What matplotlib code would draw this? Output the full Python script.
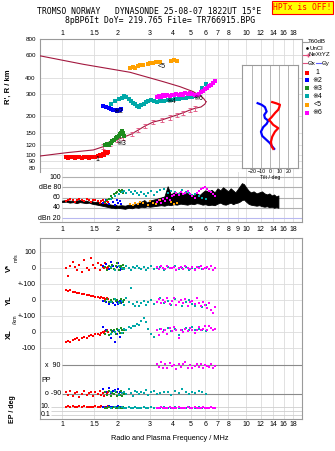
import numpy as np
import matplotlib.pyplot as plt
from matplotlib.lines import Line2D
from matplotlib.ticker import NullLocator

plt.rcParams['font.family'] = ['Liberation Sans', 'DejaVu Sans']

W, H = 335, 451

# ---- echo traces (frequency MHz, virtual height km, amplitude dB, V*, YL, XL, PP, EP)
red_f = [1.05, 1.08, 1.11, 1.14, 1.17, 1.20, 1.24, 1.28, 1.32, 1.36, 1.40, 1.44, 1.48, 1.52,
         1.56, 1.60, 1.63, 1.66, 1.69, 1.72, 1.75, 1.78]
red_h = [96, 95, 96, 97, 95, 96, 96, 95, 97, 96, 95, 96, 97, 96, 99, 101, 98, 103, 101, 105, 104, 106]
red_db = [54, 56, 57, 55, 52, 56, 58, 56, 54, 57, 55, 52, 55, 56, 53, 50, 54, 55, 52, 50, 53, 51]
red_v = [-2, -52, 10, 40, 8, -12, 19, -23, 50, -2, -12, 60, 19, -2, 29, -12, 19, 8, -2, 29, 0, 8]
red_yl = [60, 55, 62, 50, 52, 45, 42, 40, 35, 30, 31, 25, 28, 20, 21, 15, 18, 12, 10, 8, 10, 5]
red_xl = [-60, -55, -65, -50, -45, -40, -48, -35, -30, -38, -25, -20, -28, -15, -10, -18, -5, 0, -8, 5, 10, 2]
red_pp = [-75, -95, -70, -100, -85, -80, -110, -90, -70, -95, -85, -75, -100, -80, -90, -70, -95,
          -85, -105, -80, -90, -75]
red_ep = [10, 12, 8, 15, 10, 9, 12, 10, 14, 8, 10, 11, 9, 12, 10, 8, 13, 10, 9, 11, 10, 12]

blue_f = [1.68, 1.74, 1.80, 1.85, 1.90, 1.94, 1.98, 2.02, 2.06, 2.10]
blue_h = [242, 238, 233, 229, 226, 224, 222, 223, 225, 227]
blue_db = [50, 55, 48, 58, 52, 46, 56, 50, 54, 48]
blue_v = [10, 25, -5, 40, 15, -10, 5, 30, -15, 0]
blue_yl = [-5, -15, -25, -10, -20, -30, -15, -22, -8, -18]
blue_xl = [30, 10, -20, -40, 5, -60, -10, 15, -30, -5]
blue_pp = [-60, -75, -55, -85, -70, -65, -80, -60, -75, -70]
blue_ep = [10, 8, 12, 10, 9, 11, 10, 13, 9, 10]

green_f = [1.72, 1.76, 1.80, 1.84, 1.88, 1.92, 1.96, 2.00, 2.03, 2.06, 2.09, 2.12, 2.15, 2.18]
green_h = [121, 123, 120, 125, 128, 131, 135, 138, 142, 146, 150, 153, 148, 140]
green_db = [52, 55, 58, 62, 60, 66, 68, 70, 74, 72, 70, 75, 68, 72]
green_v = [5, -10, 15, 0, 20, -5, 10, 30, -15, 5, 12, -8, 18, 2]
green_yl = [-5, 5, -10, 0, -15, 8, -8, 2, -12, -20, 5, -5, -10, 0]
green_xl = [-15, 5, -20, 10, 0, 15, -10, 20, 5, -5, 25, 10, -8, 15]
green_pp = [-80, -95, -70, -100, -85, -90, -75, -105, -88, -95, -70, -100, -85, -92]
green_ep = [6, 5, 8, 4, 6, 7, 5, 6, 8, 5, 6, 4, 7, 6]

cyan_f = [1.85, 1.95, 2.05, 2.12, 2.18, 2.24, 2.30, 2.36, 2.42, 2.48,
          2.55, 2.62, 2.70, 2.78, 2.86, 2.95, 3.05, 3.15, 3.28, 3.42,
          3.58, 3.75, 3.92, 4.10, 4.30, 4.50, 4.70, 4.90, 5.10, 5.30,
          5.55, 5.80, 6.05]
cyan_h = [250, 262, 272, 280, 290, 285, 275, 262, 255, 248,
          242, 238, 244, 250, 258, 265, 268, 262, 258, 262,
          265, 268, 270, 272, 274, 276, 278, 282, 285, 290,
          300, 330, 360]
cyan_db = [58, 62, 66, 70, 72, 68, 74, 70, 66, 72,
           68, 64, 70, 66, 62, 68, 72, 65, 70, 74,
           76, 68, 72, 70, 66, 74, 70, 68, 64, 66,
           62, 60, 58]
cyan_v = [5, -10, 15, 0, -5, 10, 2, -15, 8, -3,
          12, 0, -8, 5, -12, 3, 10, -5, 0, 8,
          -10, 4, -2, 12, -6, 0, 6, -10, 3, -4,
          8, -8, 0]
cyan_yl = [-10, 5, -20, -5, -30, 10, -15, 77, -25, -35,
           -10, -40, -20, -5, -30, -15, 0, -25, -10, 15,
           -20, -5, -30, 5, -15, -35, -10, 0, -25, -40,
           -20, -45, -30]
cyan_xl = [-10, 0, 10, -5, 20, 15, 30, 25, 40, 35,
           50, 45, 70, 90, 60, 20, -10, -30, 10, 20,
           15, 25, 5, 20, -20, 15, 25, 10, 30, 15,
           20, 10, 5]
cyan_pp = [-80, -70, -95, -85, -75, -90, -60, -85, -100, -70,
           -80, -90, -75, -85, -65, -95, -80, -70, -90, -85,
           -75, -80, -95, -70, -85, -60, -80, -90, -75, -85,
           -70, -80, -90]
cyan_ep = [6, 8, 5, 7, 4, 6, 8, 5, 6, 7,
           4, 6, 5, 8, 6, 5, 7, 6, 4, 6,
           8, 5, 6, 7, 5, 6, 4, 7, 6, 5,
           8, 6, 5]

orange_f = [2.35, 2.42, 2.50, 2.58, 2.66, 2.74, 2.92, 3.02, 3.12, 3.25, 3.40, 3.90, 4.05, 4.20]
orange_h = [478, 485, 480, 492, 498, 502, 515, 520, 525, 528, 532, 540, 550, 535]
orange_db = [48, 45, 50, 47, 52, 49, 46, 53, 50, 48, 55, 52, 47, 50]

magenta_f = [3.30, 3.38, 3.46, 3.55, 3.64, 3.74, 3.84, 3.95, 4.06, 4.18,
             4.30, 4.42, 4.55, 4.68, 4.82, 4.96, 5.10, 5.25, 5.40, 5.55,
             5.70, 5.85, 6.00, 6.15, 6.30, 6.45, 6.60, 6.75]
magenta_h = [285, 290, 282, 292, 288, 294, 290, 296, 292, 298,
             294, 300, 296, 302, 298, 304, 300, 296, 292, 300,
             310, 318, 326, 334, 342, 352, 364, 380]
magenta_db = [52, 55, 50, 58, 54, 60, 56, 62, 65, 68,
              64, 70, 66, 68, 72, 66, 62, 60, 68, 72,
              76, 78, 80, 76, 72, 70, 66, 62]
magenta_v = [5, -5, 10, 0, -8, 12, 3, -3, 8, -10,
             0, 6, -6, 15, 2, -4, 9, -12, 4, -2,
             10, -8, 0, 6, -5, 12, -10, 3]
magenta_yl = [-10, 5, -20, 0, -15, 10, -25, -5, 15, -30,
              -10, 0, -20, 5, -35, -15, -5, -25, 10, -20,
              -40, -10, -30, -50, -20, -60, -80, -45]
magenta_xl = [10, -20, 20, 0, 15, -10, 25, 5, 30, 10,
              -35, 15, 0, 20, 5, 25, 10, -5, 15, 30,
              10, 20, 35, 15, 40, 25, 10, 20]
magenta_pp = [100, 80, 110, 75, 95, 70, 105, 85, 90, 65,
              100, 80, 95, 110, 75, 90, 70, 85, 100, 80,
              95, 75, 90, 85, 80, 95, 75, 85]
magenta_ep = [6, 5, 7, 4, 6, 5, 8, 4, 6, 5,
              7, 5, 6, 4, 8, 5, 6, 7, 4, 6,
              5, 7, 6, 4, 5, 7, 6, 5]

# ---- model curves (NeXtYZ real height profile and its return branch)
lower_f = [0.75, 1.061, 1.48, 1.677, 1.824, 1.983, 2.154, 2.392, 2.598, 2.826, 3.135, 3.482,
           3.864, 4.201, 4.563, 4.962, 5.283, 5.697, 5.986, 6.062]
lower_h = [98.3, 104.6, 109.8, 116.5, 123.8, 131.3, 137.8, 146.2, 157.0, 168.7, 181.2, 187.8,
           197.1, 205.3, 213.9, 224.6, 231.5, 236.9, 250.0, 260.5]
upper_f = [6.062, 5.908, 5.743, 5.172, 4.378, 3.553, 2.342, 1.983, 1.305, 0.75]
upper_h = [260.5, 273.5, 284.9, 311.5, 340.8, 372.6, 440.9, 459.3, 508.6, 594.0]
err_f = [1.677, 1.824, 1.983, 2.154, 2.392, 2.598, 2.826, 3.135, 3.482, 3.864, 4.201, 4.563,
         4.962, 5.283]
err_h = [116.5, 123.8, 131.3, 137.8, 146.2, 157.0, 168.7, 181.2, 187.8, 197.1, 205.3, 213.9,
         224.6, 231.5]

# ---- tilt inset
tiltx_h = [258, 252, 246, 235, 225, 213, 197, 188, 180, 172, 162, 152, 139, 127, 117, 112]
tiltx_deg = [2.2, 7, 10.8, 10, 8.9, 5.5, 1.5, -1.5, 1, 3.3, 8.9, 5.2, 2.2, 0.8, 1.6, 3.3]
tilty_h = [253, 246, 236, 218, 205, 194, 185, 175, 165, 152, 141, 131, 124, 117, 112]
tilty_deg = [-14, -9.6, -5.9, -4, -6.7, -5.9, -2.2, -4, -7.8, -10.3, -8.9, -4, -0.3, 2.2, 4.4]

# ---- unclassified amplitude band
unc_f = [1.00, 1.05, 1.10, 1.15, 1.20, 1.25, 1.30, 1.35, 1.40, 1.45, 1.50, 1.55, 1.60, 1.65,
         1.70, 1.75, 1.80, 1.85, 1.90, 1.95, 2.00, 2.10, 2.20, 2.30, 2.40, 2.50, 2.60, 2.70,
         2.80, 2.90, 3.00, 3.15, 3.30, 3.45, 3.60, 3.75, 3.90, 4.05, 4.20, 4.40, 4.60, 4.80,
         5.00, 5.20, 5.40, 5.60, 5.80, 6.00, 6.25, 6.50, 6.75, 7.00, 7.25, 7.50, 7.75, 8.00,
         8.25, 8.50, 8.75, 9.00, 9.25, 9.50, 9.75, 10.0, 10.3, 10.6, 11.0, 11.4, 11.8, 12.2,
         12.6, 13.0, 13.4, 13.8, 14.2, 14.6, 15.0]
unc_lo = [51, 52, 50, 51, 49, 51, 50, 49, 50, 48, 47, 46, 45, 44, 43, 42, 41, 40, 40, 39,
          40, 39, 38, 40, 39, 41, 40, 42, 41, 43, 42, 43, 44, 45, 44, 46, 45, 47, 46, 48,
          47, 46, 48, 47, 49, 48, 46, 47, 45, 46, 45, 48, 50, 47, 46, 48, 50, 47, 49, 50,
          52, 55, 56, 52, 48, 46, 45, 44, 45, 43, 42, 43, 41, 42, 40, 41, 40]
unc_hi = [54, 55, 54, 53, 54, 55, 53, 54, 52, 53, 51, 52, 50, 49, 50, 48, 47, 46, 45, 46,
          44, 45, 44, 46, 45, 47, 50, 52, 55, 50, 54, 56, 58, 60, 62, 82, 66, 70, 68, 71,
          66, 70, 67, 64, 68, 65, 70, 74, 72, 75, 70, 78, 74, 80, 76, 72, 78, 74, 70, 76,
          82, 88, 86, 80, 74, 70, 72, 68, 70, 72, 68, 66, 68, 64, 66, 62, 64]

top_ticks = [1, 1.5, 2, 3, 4, 5, 6, 7, 8, 10, 12, 14, 16, 18]
mid_ticks = [1, 1.5, 2, 3, 4, 5, 6, 7, 8, 9, 10, 12, 14, 16, 18]
h_ticks = [80, 90, 100, 120, 150, 200, 300, 400, 600, 800]

RED, BLUE, GREEN, CYAN, ORANGE, MAGENTA = '#ff0000', '#0000ff', '#1e8c1e', '#00a8a8', '#ffa000', '#ff00ff'
CURVE, NEX = '#a3183f', '#e0507e'
FRAME, GRID = '#9a9a9a', '#dcdcdc'


def rect(x0, y0, x1, y1):
    # pixel box measured from the top-left corner -> figure fraction
    return [x0 / W, 1 - y1 / H, (x1 - x0) / W, (y1 - y0) / H]


def fx(x):
    return x / W


def fy(y):
    return 1 - y / H


def fmt(v):
    return f"{v:g}"


# rows of the lower panel, in m/s units (100 m/s per row step)
V_ROW, YL_ROW, XL_ROW = 0, -200, -400
PP_ZERO = -697.0
EP_MID, EP_DEC = -891.9, 25.0


def pp_row(deg):
    return PP_ZERO + np.asarray(deg, float)


def ep_row(ep):
    return EP_MID + EP_DEC * np.log10(np.asarray(ep, float))


traces = [
    (red_f, red_h, red_db, red_v, red_yl, red_xl, red_pp, red_ep, RED),
    (blue_f, blue_h, blue_db, blue_v, blue_yl, blue_xl, blue_pp, blue_ep, BLUE),
    (green_f, green_h, green_db, green_v, green_yl, green_xl, green_pp, green_ep, GREEN),
    (cyan_f, cyan_h, cyan_db, cyan_v, cyan_yl, cyan_xl, cyan_pp, cyan_ep, CYAN),
    (magenta_f, magenta_h, magenta_db, magenta_v, magenta_yl, magenta_xl, magenta_pp, magenta_ep, MAGENTA),
]

fig = plt.figure(figsize=(W / 100, H / 100), dpi=100)

# header
fig.text(fx(149), fy(12), "TROMSO NORWAY   DYNASONDE 25-08-07 1822UT 15°E",
         family='DejaVu Sans Mono', size=5.9, ha='center', va='center')
fig.text(fx(160), fy(20.5), "8pBP6It DoY= 219.765 File= TR766915.BPG",
         family='DejaVu Sans Mono', size=5.9, ha='center', va='center')
fig.text(fx(302.5), fy(7.5), "HPTx is OFF!", family='DejaVu Sans Mono', size=5.8,
         color='red', ha='center', va='center',
         bbox=dict(boxstyle='square,pad=0.2', fc='#ffff00', ec='red', lw=0.8))


def style_x(ax, ticks):
    ax.set_xscale('log')
    ax.set_xlim(0.759, 20.15)
    ax.set_xticks(ticks)
    ax.set_xticklabels([fmt(t) for t in ticks])
    ax.xaxis.set_minor_locator(NullLocator())
    for s in ax.spines.values():
        s.set_color(FRAME)
        s.set_linewidth(0.8)


# ---- main height panel
ax = fig.add_axes(rect(40, 39, 302, 172))
style_x(ax, top_ticks)
ax.set_yscale('log')
ax.set_ylim(74, 800)
ax.set_yticks(h_ticks)
ax.set_yticklabels([str(t) for t in h_ticks])
ax.yaxis.set_minor_locator(NullLocator())
ax.tick_params(axis='x', top=False, bottom=False, labeltop=True, labelbottom=False,
               length=0, pad=1.5, labelsize=5)
ax.tick_params(axis='y', length=0, pad=3, labelsize=4.5)
ax.grid(True, color=GRID, lw=0.6)
ax.spines['bottom'].set_visible(False)
ax.set_ylabel("R', R / km", fontsize=5.5, fontweight='bold', labelpad=8)
ax.yaxis.set_label_coords(-28 / 262, 0.64)

ax.plot(lower_f, lower_h, color=CURVE, lw=0.8, zorder=3)
ax.plot(upper_f, upper_h, color=CURVE, lw=0.8, zorder=3)
eh = np.array(err_h)
ax.errorbar(err_f, eh, yerr=[eh * 0.04, eh * 0.04], fmt='none', ecolor=NEX,
            elinewidth=0.6, capsize=1.2, capthick=0.6, zorder=4)
for f, h, *_, c in traces:
    ax.plot(f, h, 's', color=c, ms=2.3, mew=0, zorder=5)
ax.plot(orange_f, orange_h, 's', color=ORANGE, ms=2.3, mew=0, zorder=5)

trace_labels = [("1", 1.556, 92.5), ("※2", 2.015, 217.8), ("※3", 2.10, 122.7),
                ("※4", 3.90, 260.5), ("<5", 3.46, 493), ("※6", 5.47, 276.8)]
for txt, f, h in trace_labels:
    ax.text(f, h, txt, fontsize=5, ha='center', va='center', zorder=6)

# ---- tilt inset
axi = fig.add_axes(rect(242.3, 65, 297.7, 167.7))
axi.set_facecolor('white')
axi.set_zorder(5)
axi.set_xlim(-31, 30.5)
axi.set_yscale('log')
axi.set_ylim(80, 500)
axi.set_xticks([-20, -10, 0, 10, 20])
axi.set_yticks([])
axi.yaxis.set_minor_locator(NullLocator())
axi.tick_params(axis='x', length=0, pad=1, labelsize=3.8)
axi.grid(True, axis='x', color='#a8a8a8', lw=0.6)
axi.set_xlabel("Tilt / deg", fontsize=3.8, labelpad=0.5)
for s in axi.spines.values():
    s.set_color(FRAME)
    s.set_linewidth(0.8)
axi.plot(tilty_deg, tilty_h, color=BLUE, lw=1.6)
axi.plot(tiltx_deg, tiltx_h, color=RED, lw=1.6)

# ---- amplitude panel
axd = fig.add_axes(rect(40, 172, 302, 222))
axd.patch.set_alpha(0)
style_x(axd, mid_ticks)
axd.set_ylim(12.2, 109.8)
axd.set_yticks([])
axd.tick_params(axis='x', length=0, pad=3, labelsize=5)
axd.grid(True, axis='x', color=GRID, lw=0.6)
axd.spines['top'].set_visible(False)
axd.spines['left'].set_visible(False)
axd.hlines([100, 80, 60, 40], 1.0, 20.15, color='#b0b0b0', lw=0.8)
axd.hlines([20], 1.0, 20.15, color='#b8b8f0', lw=0.8)
for txt, v in [("100", 100), ("dBe 80", 80), ("60", 60), ("40", 40), ("dBn 20", 20)]:
    axd.text(0.985, v, txt, fontsize=5, ha='right', va='center')
axd.fill_between(unc_f, unc_lo, unc_hi, color='black', lw=0.6, zorder=2)
for f, h, db, *_, c in traces:
    axd.plot(f, db, 's', color=c, ms=2.0, mew=0, zorder=3)
axd.plot(orange_f, orange_db, 's', color=ORANGE, ms=2.0, mew=0, zorder=3)

# ---- drift / polarisation panel
axl = fig.add_axes(rect(40, 238, 302, 419))
style_x(axl, top_ticks)
axl.set_ylim(-943.75, 187.5)
row_ticks = [100, 0, -100, -200, -300, -400, -500]
axl.set_yticks(row_ticks)
axl.set_yticklabels(["100", "0", "+-100", "0", "+-100", "0", "-100"])
axl.tick_params(axis='x', length=0, pad=1.5, labelsize=5)
axl.tick_params(axis='y', length=0, pad=3, labelsize=5)
axl.grid(True, axis='x', color=GRID, lw=0.6)
axl.hlines(row_ticks, 0.759, 20.15, color=GRID, lw=0.6)
axl.hlines(pp_row([90, -90]), 1.0, 20.15, color='#8a8a8a', lw=0.8)
axl.hlines(ep_row([10, 1, 0.1]), 0.87, 20.15, color='#cfcfcf', lw=0.6)
axl.text(0.985, pp_row(90), "x  90", fontsize=5, ha='right', va='center')
axl.text(0.985, pp_row(-90), "o -90", fontsize=5, ha='right', va='center')
axl.text(0.776, pp_row(-3), "PP", fontsize=5, ha='left', va='center')
axl.text(0.862, ep_row(10), "10.", fontsize=5, ha='right', va='center')
axl.text(0.862, ep_row(0.1), "0.1", fontsize=5, ha='right', va='center')
for f, h, db, v, yl, xl, pp, ep, c in traces:
    kw = dict(color=c, ms=1.9, mew=0, ls='none', marker='s')
    axl.plot(f, V_ROW + np.array(v), **kw)
    axl.plot(f, YL_ROW + np.array(yl), **kw)
    axl.plot(f, XL_ROW + np.array(xl), **kw)
    axl.plot(f, pp_row(pp), **kw)
    axl.plot(f, ep_row(ep), **kw)

fig.text(fx(170), fy(439), "Radio and Plasma Frequency / MHz", fontsize=5.3, ha='center', va='center')
fig.text(fx(9.5), fy(268), "V*", fontsize=5.5, fontweight='bold', rotation=90, ha='center', va='center')
fig.text(fx(16.5), fy(258), "m/s", fontsize=3.8, rotation=90, ha='center', va='center')
fig.text(fx(9.5), fy(300), "YL", fontsize=5.5, fontweight='bold', rotation=90, ha='center', va='center')
fig.text(fx(15.5), fy(320), "/km", fontsize=3.8, rotation=90, ha='center', va='center')
fig.text(fx(9.5), fy(334), "XL", fontsize=5.5, fontweight='bold', rotation=90, ha='center', va='center')
fig.text(fx(12.5), fy(409), "EP / deg", fontsize=5, fontweight='bold', rotation=90, ha='center', va='center')


# ---- key at the right edge
def key_line(x0, x1, y, color, **kw):
    fig.add_artist(Line2D([fx(x0), fx(x1)], [fy(y), fy(y)], color=color, lw=0.8,
                          transform=fig.transFigure, **kw))


key_line(303, 307.5, 41.7, FRAME)
fig.text(fx(308), fy(41.7), "T60dB", fontsize=4.4, va='center')
fig.add_artist(Line2D([fx(306.5)], [fy(48.3)], marker='o', ms=0.9, color='black', ls='none',
                      transform=fig.transFigure))
fig.text(fx(310), fy(48.3), "UnCl", fontsize=4.4, va='center')
key_line(303, 307.5, 55, NEX, marker='+', ms=2.5, markevery=[1])
fig.text(fx(308.3), fy(55), "NeXtYZ", fontsize=4.4, va='center')
key_line(303, 307, 63.3, NEX)
fig.text(fx(308), fy(63.3), "Θx", fontsize=4.4, va='center')
key_line(315.5, 321, 63.3, '#6060ff')
fig.text(fx(321.5), fy(63.3), "Θy", fontsize=4.4, va='center')

key_items = [("1", RED, 72.7), ("※2", BLUE, 80.3), ("※3", GREEN, 88.0),
             ("※4", CYAN, 96.0), ("<5", ORANGE, 105.0), ("※6", MAGENTA, 113.0)]
for txt, c, y in key_items:
    fig.add_artist(Line2D([fx(307)], [fy(y)], marker='s', ms=2.4, mew=0, color=c, ls='none',
                          transform=fig.transFigure))
    fig.text(fx(317.5), fy(y), txt, fontsize=5, ha='center', va='center')

fig.savefig('out.png', dpi=100)
